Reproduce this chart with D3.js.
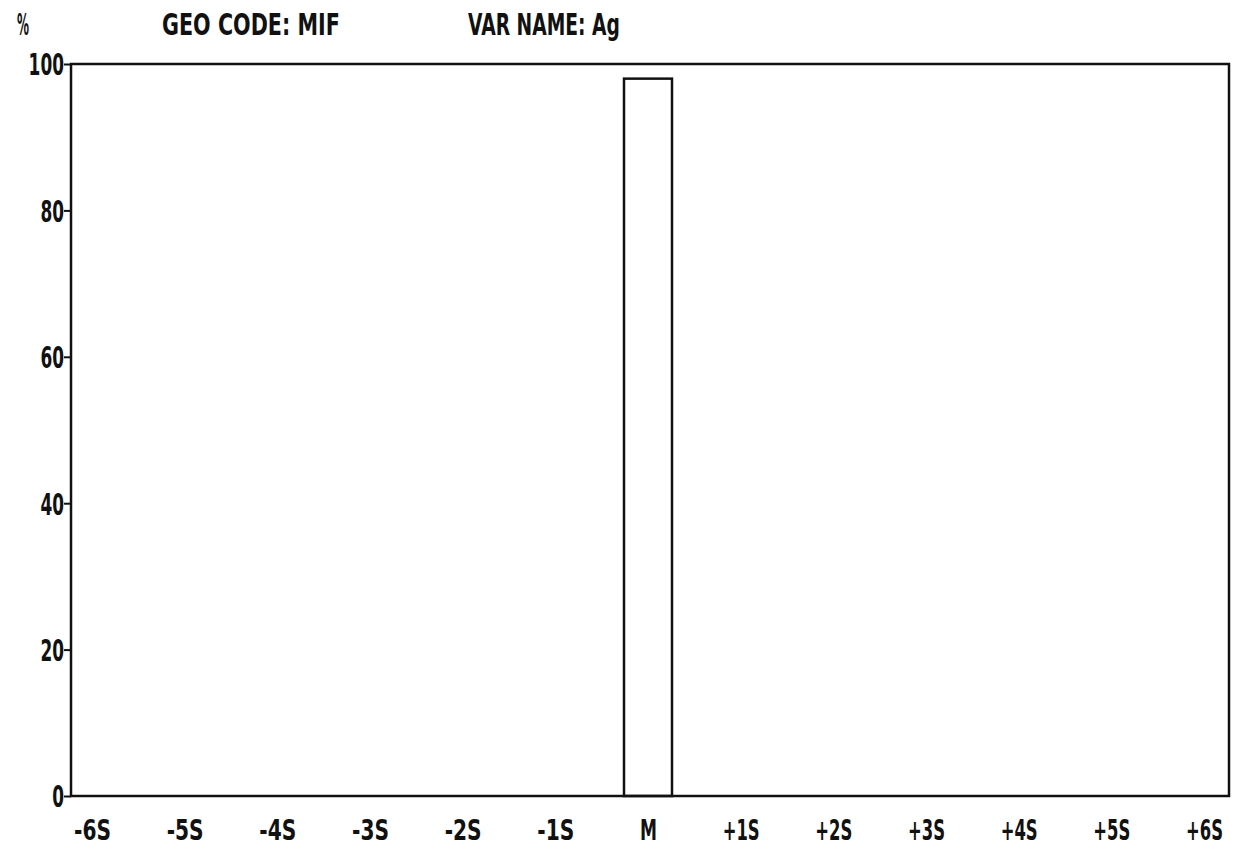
<!DOCTYPE html>
<html lang="en">
<head>
  <meta charset="utf-8">
  <title>GEO CODE: MIF - Ag</title>
  <script src="https://cdn.jsdelivr.net/npm/d3@7"></script>
  <style>
    body { margin: 0; background: #fff; overflow: hidden; }
    svg text { font-family: 'DejaVu Sans', sans-serif; fill: #111; font-weight: bold; }
  </style>
</head>
<body>
  <svg id="chart" width="1240" height="850"></svg>
  <script>
    // data
    const categories = ["-6S", "-5S", "-4S", "-3S", "-2S", "-1S", "M", "+1S", "+2S", "+3S", "+4S", "+5S", "+6S"];
    const percents   = [0, 0, 0, 0, 0, 0, 98, 0, 0, 0, 0, 0, 0];
    const yTicks     = [0, 20, 40, 60, 80, 100];
    const geoCode = "MIF";
    const varName = "Ag";

    const W = 1240, H = 850;
    const m = { left: 71, right: 11, top: 64, bottom: 54 };
    const svg = d3.select("#chart");

    const x = d3.scalePoint().domain(categories).range([m.left + 21, W - m.right - 25]);
    const y = d3.scaleLinear().domain([0, 100]).range([H - m.bottom, m.top]);
    const barW = 48;

    // squeeze a text horizontally to the wanted width (tall, narrow plotter font look)
    function squeeze(sel, widthOf, anchorX) {
      sel.each(function(d) {
        const t = d3.select(this);
        const natural = this.getComputedTextLength();
        const sx = widthOf(d, t.text()) / natural;
        t.attr("x", anchorX / sx).attr("transform", `scale(${sx},1)`);
      });
    }

    // header
    const header = [
      { s: "%", x: 23, w: 12, anchor: "middle", size: 30 },
      { s: "GEO CODE: " + geoCode, x: 162, w: 178, anchor: "start", size: 31 },
      { s: "VAR NAME: " + varName, x: 468, w: 152, anchor: "start", size: 31 }
    ];
    svg.append("g").selectAll("text").data(header).join("text")
      .attr("y", 35)
      .attr("text-anchor", d => d.anchor)
      .attr("font-size", d => d.size)
      .text(d => d.s)
      .each(function(d) {
        const sx = d.w / this.getComputedTextLength();
        d3.select(this).attr("x", d.x / sx).attr("transform", `scale(${sx},1)`);
      });

    // bars (only non-zero ones visible)
    svg.append("g").selectAll("rect")
      .data(categories.map((c, i) => ({ c, v: percents[i] })).filter(d => d.v > 0))
      .join("rect")
      .attr("x", d => x(d.c) - barW / 2)
      .attr("y", d => y(d.v))
      .attr("width", barW)
      .attr("height", d => y(0) - y(d.v))
      .attr("fill", "none")
      .attr("stroke", "#111")
      .attr("stroke-width", 2.5);

    // frame
    svg.append("rect")
      .attr("x", m.left).attr("y", m.top)
      .attr("width", W - m.left - m.right).attr("height", H - m.top - m.bottom)
      .attr("fill", "none").attr("stroke", "#111").attr("stroke-width", 2.5);

    // y axis
    const yAxis = svg.append("g").attr("transform", `translate(${m.left},0)`)
      .call(d3.axisLeft(y).tickValues(yTicks).tickSize(7).tickPadding(0));
    yAxis.select(".domain").remove();
    yAxis.selectAll("line").attr("stroke", "#111").attr("stroke-width", 2);
    yAxis.selectAll("text").attr("font-size", 30).attr("dy", "0.36em")
      .call(squeeze, (d, s) => s.length * 11.8, -7);

    // x axis labels
    const xAxis = svg.append("g").attr("transform", `translate(0,${H - m.bottom})`)
      .call(d3.axisBottom(x).tickSize(0).tickPadding(0));
    xAxis.select(".domain").remove();
    xAxis.selectAll("text")
      .attr("y", 34).attr("dy", "0.36em")
      .attr("font-size", 28)
      .call(squeeze, (d, s) => s.length === 3 ? 37 : 17, 0);
  </script>
</body>
</html>
